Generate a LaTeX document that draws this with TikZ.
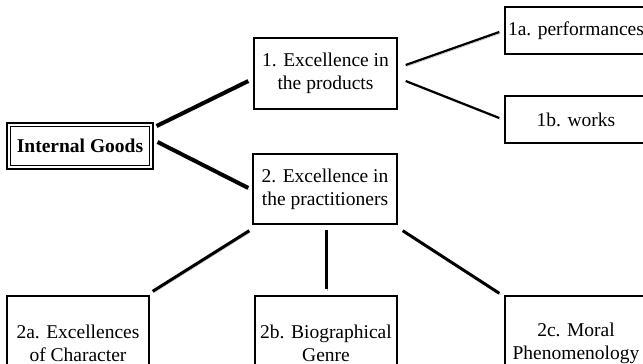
\documentclass[tikz,border=0pt]{standalone}
\usepackage{fontspec}
\setmainfont{Liberation Serif}
\begin{document}
\begin{tikzpicture}[x=1pt,y=-1pt,
  boxstyle/.style={draw=black,line width=1.4pt,fill=white,inner sep=0pt,align=center,
    font=\fontsize{19.5}{23}\selectfont},
  shadowline/.style={preaction={draw=black!30,transform canvas={xshift=1.2pt,yshift=-1.5pt}}},
  thickline/.style={line width=4pt,shadowline},
  midline/.style={line width=3pt,shadowline},
  thinline/.style={line width=2.2pt,shadowline}]
\useasboundingbox (0,0) rectangle (643,364);
\clip (0,0) rectangle (643,364);
% Internal Goods (double border)
\node[draw=black,line width=1.2pt,minimum width=146pt,minimum height=46pt,inner sep=0pt] (ig) at (80,146) {};
\node[draw=black,line width=1.8pt,minimum width=139pt,minimum height=39pt,inner sep=0pt,
  font=\fontsize{19.5}{22.5}\selectfont\bfseries] (igi) at (80,146) {Internal Goods};
% level 1
\node[boxstyle,minimum width=143pt,minimum height=71pt] (b1) at (325.5,73.5) {1. Excellence in\\the products};
\node[boxstyle,minimum width=144pt,minimum height=70pt] (b2) at (325,189) {2. Excellence in\\the practitioners};
% right boxes
\node[boxstyle,minimum width=142pt,minimum height=47pt] (b1a) at (576,30.5) {1a. performances};
\node[boxstyle,minimum width=142pt,minimum height=47pt] (b1b) at (576,119.5) {1b. works};
% bottom boxes
\node[boxstyle,minimum width=142pt,minimum height=94pt] (b2a) at (78,343) {2a. Excellences\\of Character};
\node[boxstyle,minimum width=142pt,minimum height=94pt] (b2b) at (326,343) {2b. Biographical\\Genre};
\node[boxstyle,minimum width=142pt,minimum height=94pt] (b2c) at (576,343) {2c. Moral\\Phenomenology};
% connectors
\draw[thickline] ([shift={(3,-20)}]ig.east) -- ([shift={(-5,7.5)}]b1.west);
\draw[thickline] ([shift={(4,-4)}]ig.east) -- ([shift={(-4,-1)}]b2.west);
\draw[thinline] ([shift={(8,-8.5)}]b1.east) -- ([shift={(-5,1.5)}]b1a.west);
\draw[thinline] ([shift={(8,7.5)}]b1.east) -- ([shift={(-5,-1.5)}]b1b.west);
\draw[midline] ([shift={(-3,6)}]b2.south west) -- ([shift={(3,-4)}]b2a.north east);
\draw[midline] ([shift={(1,5)}]b2.south) -- ([shift={(0,-6)}]b2b.north);
\draw[midline] ([shift={(5,6)}]b2.south east) -- ([shift={(-5,-2)}]b2c.north west);
\end{tikzpicture}
\end{document}
